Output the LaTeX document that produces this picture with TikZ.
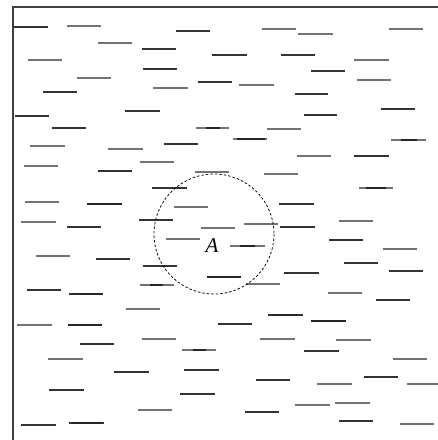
\documentclass[tikz,border=0pt]{standalone}
\usepackage{fontspec}
\newfontfamily\timesfont{Liberation Serif}
\begin{document}
\begin{tikzpicture}[x=1pt,y=-1pt,
  gseg/.style={draw=black!55,line width=1.1pt},
  dseg/.style={draw=black!80,line width=1.2pt},
  kseg/.style={draw=black!85,line width=1.9pt},
  frame/.style={draw=black!75,line width=1.1pt},
  ring/.style={draw=black,line width=0.75pt,dash pattern=on 2.5pt off 2pt}]
\useasboundingbox (0,0) rectangle (438,440);
\draw[frame] (438,7) -- (13,7) -- (13,440);
% gray segments (x1,x2,y)
\foreach \a/\b/\y in {67/101/26,98/132/43,28/62/60,77/111/78,153/188/88,30/65/146,108/143/149,
  262/296/29,298/333/34,389/423/29,354/389/60,239/274/85,357/391/80,267/301/129,233/267/139,391/426/140,196/229/128,
  24/58/166,140/174/162,195/229/172,25/59/202,174/208/207,21/56/222,201/235/228,166/200/239,36/70/256,140/174/285,
  297/331/156,264/298/174,359/393/188,339/373/221,244/278/224,230/265/246,383/417/249,246/280/284,328/362/293,
  126/160/309,17/52/325,142/176/339,182/216/350,48/83/359,138/172/410,
  260/295/339,336/371/340,393/427/359,317/352/384,407/438/384,295/330/405,335/370/403,400/434/424}
  \draw[gseg] (\a,\y) -- (\b,\y);
% dark segments
\foreach \a/\b/\y in {13/48/27,176/210/31,142/176/49,212/247/55,143/177/69,198/232/82,43/77/92,125/160/111,15/49/116,52/86/128,164/198/144,
  281/315/55,311/345/71,295/328/94,381/415/109,304/337/115,
  98/132/171,152/187/188,87/122/204,67/101/227,139/173/220,96/130/259,143/177/266,207/241/277,27/61/290,69/103/294,
  354/389/156,279/314/204,280/315/227,329/363/240,344/378/263,284/319/273,389/423/271,
  68/102/325,218/252/324,80/114/344,114/149/372,184/219/370,49/84/390,180/215/394,21/56/425,69/104/423,
  376/410/300,268/303/315,311/346/321,304/339/351,256/290/380,364/398/377,245/279/412,339/373/421}
  \draw[dseg] (\a,\y) -- (\b,\y);
% thicker dark parts
\foreach \a/\b/\y in {206/220/128,237/265/139,401/417/140,150/163/285,87/122/204,207/241/277,73/101/294,
  366/386/188,240/255/246,193/206/350,273/298/315,311/346/321,72/102/423,68/102/325}
  \draw[kseg] (\a,\y) -- (\b,\y);
\draw[ring] (214,234) circle[radius=60];
\node[font=\timesfont\itshape\fontsize{21}{21}\selectfont,inner sep=0pt] (lblA) at (212,245.5) {A};
\end{tikzpicture}
\end{document}
